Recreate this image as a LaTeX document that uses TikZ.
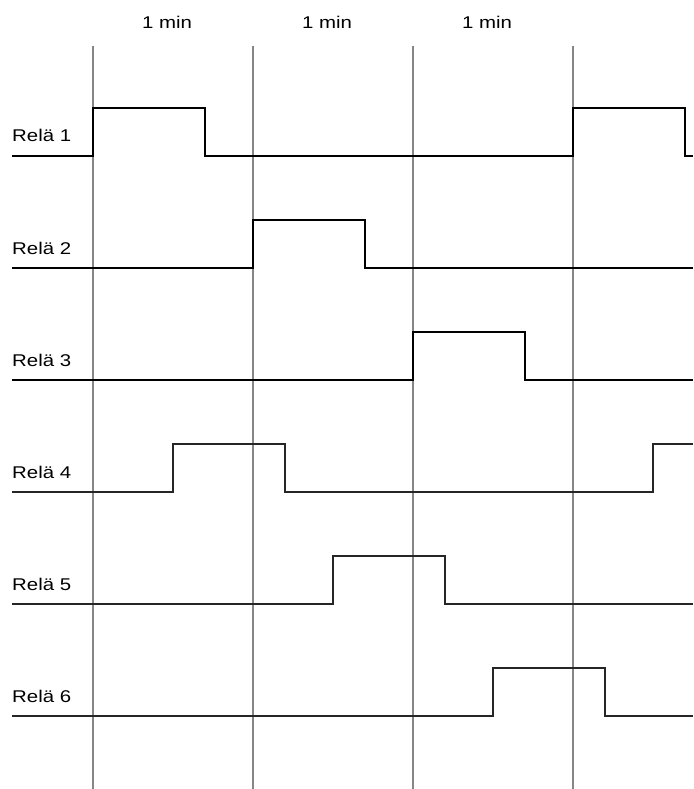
\documentclass[tikz,border=0pt]{standalone}
\usepackage{fontspec}
\setmainfont{Liberation Sans}
\usetikzlibrary{positioning}

\begin{document}
\begin{tikzpicture}[x=1pt,y=-1pt,
  lbl/.style={anchor=base west,inner sep=0pt,xscale=1.2,transform shape,
              font=\fontsize{17}{20}\selectfont},
  minlbl/.style={anchor=base,inner sep=0pt,xscale=1.2,transform shape,
                 font=\fontsize{17}{20}\selectfont},
  gridline/.style={draw=gray!95,line width=1.3pt},
  sigthick/.style={draw=black,line width=2.5pt,line join=miter},
  sigthin/.style={draw=black!85,line width=1.2pt,line join=miter}]
\useasboundingbox (0,0) rectangle (693,789);
% time grid
\foreach \gx in {93,253,413,573}
  \draw[gridline] (\gx,46) -- (\gx,789);
\foreach \mx/\i in {167/1,327/2,487/3}
  \node[minlbl] (min\i) at (\mx,29) {1 min};
% relays 1-3
\node[lbl] (rel1) at (12,142) {Relä 1};
\draw[sigthick] (12,156) -- (93,156) -- (93,108) -- (205,108) -- (205,156)
  -- (573,156) -- (573,108) -- (685,108) -- (685,156) -- (693,156);
\node[lbl] (rel2) at (12,254) {Relä 2};
\draw[sigthick] (12,268) -- (253,268) -- (253,220) -- (365,220) -- (365,268) -- (693,268);
\node[lbl] (rel3) at (12,366) {Relä 3};
\draw[sigthick] (12,380) -- (413,380) -- (413,332) -- (525,332) -- (525,380) -- (693,380);
% relays 4-6
\node[lbl] (rel4) at (12,478) {Relä 4};
\draw[sigthin] (12,492) -- (173,492) -- (173,444) -- (285,444) -- (285,492)
  -- (653,492) -- (653,444) -- (693,444);
\node[lbl] (rel5) at (12,590) {Relä 5};
\draw[sigthin] (12,604) -- (333,604) -- (333,556) -- (445,556) -- (445,604) -- (693,604);
\node[lbl] (rel6) at (12,702) {Relä 6};
\draw[sigthin] (12,716) -- (493,716) -- (493,668) -- (605,668) -- (605,716) -- (693,716);
\end{tikzpicture}
\end{document}
